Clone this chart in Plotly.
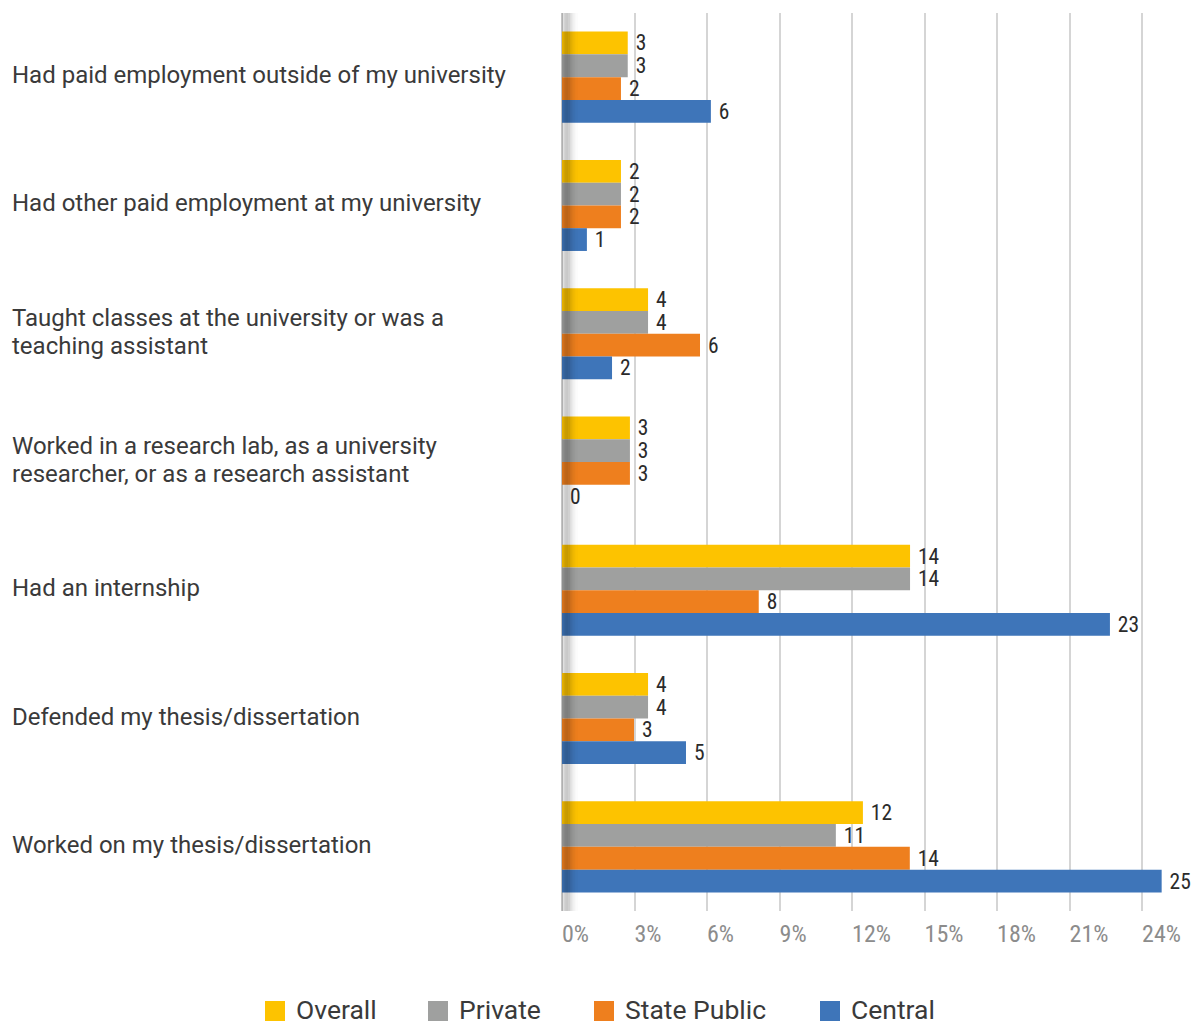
import plotly.graph_objects as go

# ---- data (percent of respondents) ----
categories = [
    "Had paid employment outside of my university",
    "Had other paid employment at my university",
    "Taught classes at the university or was a teaching assistant",
    "Worked in a research lab, as a university researcher, or as a research assistant",
    "Had an internship",
    "Defended my thesis/dissertation",
    "Worked on my thesis/dissertation",
]
# wrapped label lines for each category
category_lines = [
    ["Had paid employment outside of my university"],
    ["Had other paid employment at my university"],
    ["Taught classes at the university or was a", "teaching assistant"],
    ["Worked in a research lab, as a university", "researcher, or as a research assistant"],
    ["Had an internship"],
    ["Defended my thesis/dissertation"],
    ["Worked on my thesis/dissertation"],
]
series_names = ["Overall", "Private", "State Public", "Central"]
overall = [2.72, 2.44, 3.56, 2.81, 14.40, 3.56, 12.45]
private = [2.72, 2.44, 3.56, 2.81, 14.40, 3.56, 11.33]
state_public = [2.44, 2.44, 5.71, 2.81, 8.14, 2.98, 14.39]
central = [6.16, 1.03, 2.07, 0.00, 22.67, 5.13, 24.81]
x_ticks = [0, 3, 6, 9, 12, 15, 18, 21, 24]

# ---- styling ----
W, H = 1192, 1026
colors = ["#FDC300", "#9FA09F", "#EE7F1E", "#3E75B9"]
NUM_FONT = "Roboto Condensed, Liberation Sans Narrow, Arial Narrow, Roboto, sans-serif"
TXT_FONT = "Roboto, sans-serif"

plot_left, plot_right = 562, 1180
plot_top, plot_bottom = 13, 911
px_per_pct = 24.17
x_max = (plot_right - plot_left) / px_per_pct
LABEL_SIZE = 24
LINE_GAP = 28  # px between wrapped label lines


def px_x(px):
    return px / W


def px_y(py):
    return (plot_bottom - py) / (plot_bottom - plot_top)


fig = go.Figure()
for name, vals, col in zip(series_names, [overall, private, state_public, central], colors):
    fig.add_trace(go.Bar(
        y=categories,
        x=vals,
        orientation="h",
        name=name,
        marker=dict(color=col, line=dict(width=0)),
        texttemplate="\u00a0%{x:.0f}",
        textposition="outside",
        constraintext="none",
        cliponaxis=False,
        textfont=dict(family=NUM_FONT, size=21.5, color="#2b2b2b"),
        showlegend=False,
        hoverinfo="x+y+name",
    ))

# left-aligned category labels, one annotation per line
annotations = []
for cat, lines in zip(categories, category_lines):
    n = len(lines)
    for i, line in enumerate(lines):
        annotations.append(dict(
            x=px_x(10), xref="paper", xanchor="left",
            y=cat, yref="y", yanchor="middle",
            yshift=((n - 1) / 2 - i) * LINE_GAP + 2,
            text=line, showarrow=False,
            font=dict(family=TXT_FONT, size=LABEL_SIZE, color="#3a3a3a"),
        ))

# soft shading along the zero line
shapes = []
shade = [0.10, 0.17, 0.21, 0.21, 0.18, 0.13, 0.08, 0.05, 0.025, 0.01]
step = 1.6 / px_per_pct
for i, op in enumerate(shade):
    shapes.append(dict(
        type="rect", xref="x", yref="paper",
        x0=i * step, x1=(i + 1) * step, y0=0, y1=1,
        fillcolor="black", opacity=op, line=dict(width=0), layer="above",
    ))

# legend drawn as swatches + text
legend_swatch_x = [265, 428, 594, 820]
legend_cy = 1009
for name, col, sx in zip(series_names, colors, legend_swatch_x):
    shapes.append(dict(
        type="rect", xref="paper", yref="paper",
        x0=px_x(sx), x1=px_x(sx + 20),
        y0=px_y(legend_cy + 12), y1=px_y(legend_cy - 8),
        fillcolor=col, line=dict(width=0),
    ))
    annotations.append(dict(
        x=px_x(sx + 29), xref="paper", xanchor="left",
        y=px_y(legend_cy), yref="paper", yanchor="middle",
        text=name, showarrow=False,
        font=dict(family=TXT_FONT, size=26.5, color="#3a3a3a"),
    ))

fig.update_layout(
    width=W, height=H,
    margin=dict(l=0, r=0, t=plot_top, b=H - plot_bottom, pad=0, autoexpand=False),
    paper_bgcolor="white", plot_bgcolor="white",
    barmode="group", bargap=0.29, bargroupgap=0,
    showlegend=False,
    xaxis=dict(
        domain=[plot_left / W, plot_right / W],
        range=[0, x_max],
        tickvals=x_ticks,
        ticktext=[f"{t}%" for t in x_ticks],
        ticklabelposition="outside right",
        ticklabelstandoff=6,
        showgrid=True, gridcolor="#d5d5d5", gridwidth=1.5,
        zeroline=True, zerolinecolor="#c4c4c4", zerolinewidth=1.5,
        showline=False, ticks="",
        automargin=False,
        tickfont=dict(family=NUM_FONT, size=24, color="#8c8c8c"),
        fixedrange=True,
    ),
    yaxis=dict(
        type="category",
        categoryorder="array", categoryarray=categories,
        autorange="reversed",
        showticklabels=False, showgrid=False, zeroline=False, showline=False,
        automargin=False,
        fixedrange=True,
    ),
    annotations=annotations,
    shapes=shapes,
)

fig.write_html("out.html")
